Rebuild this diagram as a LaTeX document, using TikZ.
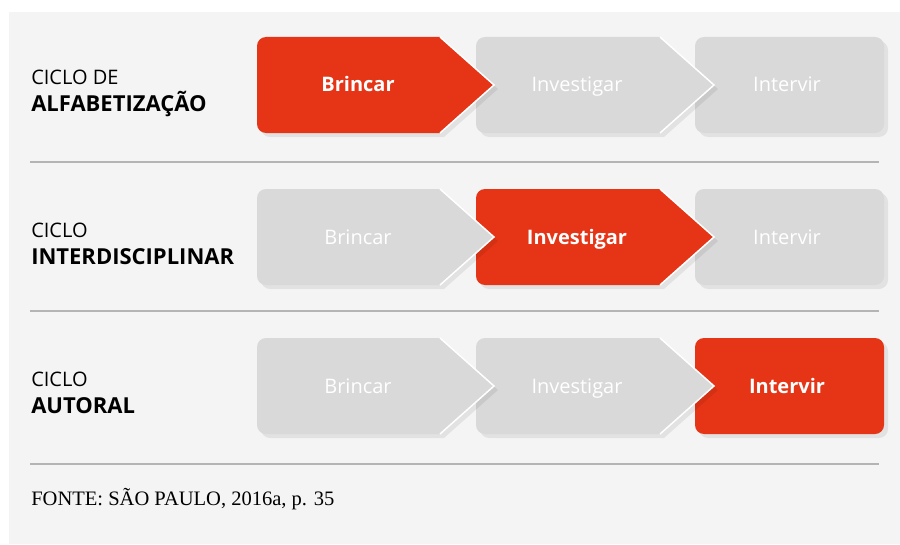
\documentclass[tikz,border=0pt]{standalone}
\usepackage{fontspec}
\setmainfont{Liberation Serif}
\setsansfont{Open Sans}
\definecolor{vermelho}{HTML}{E53416}
\definecolor{cinza}{HTML}{D9D9D9}
\definecolor{fundo}{HTML}{F4F4F4}
\definecolor{linha}{HTML}{B4B4B4}
\newcommand{\setapath}[4]{%
  \fill[#1] ({#3},{#4}) -- ({#3+54},{#4-48}) -- ({#3},{#4-96}) -- ({#2+9},{#4-96})
    arc[start angle=270,end angle=180,radius=6.75pt] -- ({#2},{#4-9})
    arc[start angle=180,end angle=90,radius=6.75pt] -- cycle;}
\newcommand{\seta}[4]{%
  \setapath{sombra,shift={(4,-4)}}{#2}{#3}{#4}
  \setapath{#1}{#2}{#3}{#4}
  \draw[contorno] ({#3},{#4}) -- ({#3+54},{#4-48}) -- ({#3},{#4-96});}
\newcommand{\caixa}[4]{%
  \fill[sombra,rounded corners=6.75pt] ({#2+4},{#4-4}) rectangle ({#3+4},{#4-100});
  \fill[#1,rounded corners=6.75pt] ({#2},{#4}) rectangle ({#3},{#4-96});}
\begin{document}
\begin{tikzpicture}[x=0.75pt,y=0.75pt,
  ativo/.style={fill=vermelho},
  inativo/.style={fill=cinza},
  sombra/.style={fill=black,opacity=0.07},
  contorno/.style={draw=white,line width=1.1pt},
  divisor/.style={draw=linha,line width=0.8pt},
  rotulo/.style={font=\sffamily\bfseries\fontsize{15}{18}\selectfont,text=white,anchor=base,inner sep=0pt},
  apagado/.style={font=\sffamily\fontsize{15}{18}\selectfont,text=white,anchor=base,inner sep=0pt},
  ciclo/.style={font=\sffamily\fontsize{15}{18}\selectfont,anchor=base west,inner sep=0pt},
  nomeciclo/.style={font=\sffamily\bfseries\fontsize{16.5}{18}\selectfont,anchor=base west,inner sep=0pt}]
  \useasboundingbox (0,0) rectangle (900,544);
  \fill[white] (0,0) rectangle (900,544);
  \fill[fundo] (9,0) rectangle (900,532);

  \caixa{inativo}{695}{884}{507}
  \seta{inativo}{476}{660}{507}
  \seta{ativo}{257}{440}{507}
  \node[ciclo] (ciclo1) at (31,459) {CICLO DE};
  \node[nomeciclo] (nome1) at (31,432) {ALFABETIZAÇÃO};
  \node[rotulo] (brincar1) at (358,452) {Brincar};
  \node[apagado] (investigar1) at (577,452) {Investigar};
  \node[apagado] (intervir1) at (787,452) {Intervir};
  \draw[divisor] (30,382) -- (879,382);

  \caixa{inativo}{695}{884}{355}
  \seta{ativo}{476}{660}{355}
  \seta{inativo}{257}{440}{355}
  \node[ciclo] (ciclo2) at (31,307) {CICLO};
  \node[nomeciclo] (nome2) at (31,280) {INTERDISCIPLINAR};
  \node[apagado] (brincar2) at (358,300) {Brincar};
  \node[rotulo] (investigar2) at (577,300) {Investigar};
  \node[apagado] (intervir2) at (787,300) {Intervir};
  \draw[divisor] (30,233) -- (879,233);

  \caixa{ativo}{695}{884}{206}
  \seta{inativo}{476}{660}{206}
  \seta{inativo}{257}{440}{206}
  \node[ciclo] (ciclo3) at (31,158) {CICLO};
  \node[nomeciclo] (nome3) at (31,131) {AUTORAL};
  \node[apagado] (brincar3) at (358,151) {Brincar};
  \node[apagado] (investigar3) at (577,151) {Investigar};
  \node[rotulo] (intervir3) at (787,151) {Intervir};
  \draw[divisor] (30,80) -- (879,80);

  \node[font=\fontsize{15.4}{18}\selectfont,anchor=base west,inner sep=0pt] (fonte) at (31,39) {FONTE: SÃO PAULO, 2016a, p. 35};
\end{tikzpicture}
\end{document}
